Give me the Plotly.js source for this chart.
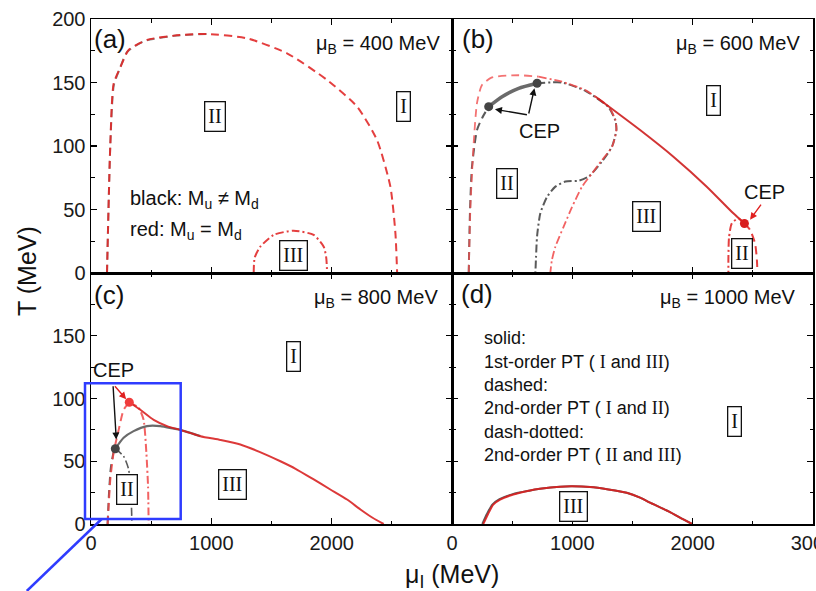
<!DOCTYPE html>
<html><head><meta charset="utf-8">
<script src="https://cdn.plot.ly/plotly-3.0.1.min.js"></script>
<style>html,body{margin:0;padding:0;background:#fff}</style>
</head><body><div id="chart" style="width:816px;height:591px"></div>
<script>
// ---------- panel (a): muB = 400 MeV ----------
const aRedDashMu = [133,160,188,244,313,465,742,964,1297,1629,1962,2211,2377,2488,2530,2544];
const aRedDashT  = [0,99.5,149,162,175.6,183.5,187.4,188.2,184.8,173,152,131,104.7,68,31,0];
const aBlkDashMu = [133,160,190,240,300,440,715,964];
const aBlkDashT  = [0,99.5,148,161,174,182.5,187,188.2];
const aDomeMu = [1352,1360,1407,1518,1684,1850,1934,1955,1962];
const aDomeT  = [0,12,20.7,30,33.3,30,20.7,12,0];

// ---------- panel (b): muB = 600 MeV ----------
const bRedDashMu = [139,153,180,208,249,332,554,720];
const bRedDashT  = [0,52,102,134,148,154,155.7,154.6];
const bRedDDMu = [720,914,1108,1191,1302,1358,1366,1330,1247,1164,1081,998,928,859,830,817];
const bRedDDT  = [154.6,150.6,144,139,131,120.5,112.6,99.5,89,78.5,68,52,36.5,20.7,10,0];
const bBlkDashMu = [139,150,166,208,249,305];
const bBlkDashT  = [0,50,83.7,112.6,121.8,131];
const bBlkSolidMu = [305,416,554,707];
const bBlkSolidT  = [131,138.8,145.4,149.4];
const bBlkDDMu = [707,914,1108,1191,1302,1358,1366,1330,1247,1136,1053,942,859,790,734,707,698,693];
const bBlkDDT  = [149.4,150,143.5,138.5,130.5,120,112.6,99.5,88,76,72.7,72,68,60,47,29,12,0];
const bRedSolidMu = [1191,1563,1840,2117,2338,2430];
const bRedSolidT  = [139,112.6,91.6,68,47,39];
const bLobeDDMu = [2430,2380,2325,2302,2297,2297];
const bLobeDDT  = [39,43,39,28,12,0];
const bLobeDashMu = [2430,2477,2519,2534,2538];
const bLobeDashT  = [39,34,23,10,0];
const bBlkCEPMu = [305,707];
const bBlkCEPT  = [131,149.4];
const bRedCEPMu = [2430];
const bRedCEPT  = [39];

// ---------- panel (c): muB = 800 MeV ----------
const cRedDashMu = [138,150,160,188,230,271,318];
const cRedDashT  = [0,20,35,57,75,91,97];
const cRedDDMu = [318,396,437,460,474,479];
const cRedDDT  = [97,92.6,83,57,30,0];
const cRedSolidMu = [318,410,521,632,742,909,1075,1241,1400,1574,1700,1851,1989,2128,2239,2340,2432];
const cRedSolidT  = [97,91,83,78,75,70,67,63.4,57.5,50,44,35.5,27.5,19.5,11.6,5,0];
const cBlkSolidMu = [202,271,354,465,576,687,742,909];
const cBlkSolidT  = [60,68.7,74,78,78,76,75,70];
const cBlkDashMu = [138,150,165,190,202];
const cBlkDashT  = [0,25,45,58,60];
const cBlkDDMu = [202,271,313,335,340];
const cBlkDDT  = [60,54,43.5,17,0];
const cBlkCEPMu = [202];
const cBlkCEPT  = [60];
const cRedCEPMu = [318];
const cRedCEPT  = [97];

// ---------- panel (d): muB = 1000 MeV ----------
const dRedSolidMu = [260,300,343,400,510,640,731,898,1000,1147,1300,1452,1563,1646,1800,1923,1995];
const dRedSolidT  = [0,8,15.5,19.5,23.5,26.5,28,29.7,30,29.4,27.5,24.9,21,17,10,3.6,0];
const dBlkSolidMu = [252,290,335,395,505,640,731,898,1000,1147,1300,1452,1563,1646,1800,1923,1995];
const dBlkSolidT  = [0,8,15.5,19.8,23.8,26.5,28,29.7,30,29.4,27.5,24.9,21,17,10,3.6,0];

// ---------- tick labels ----------
const muTicks = [0,1000,2000,3000];
const muMinor = [500,1500,2500];
const tTicks = [0,50,100,150,200];
const tMinor = [25,75,125,175];

const RED = 'rgba(224,36,36,0.88)';
const BLK = 'rgba(72,72,72,0.9)';
const DASH = '8px,5px';
const DD = '8px,3px,2px,3px';

function ln(xa, ya, x, y, color, dash, w){
  return {type:'scatter', mode:'lines', x:x, y:y, xaxis:xa, yaxis:ya,
    line:{color:color, dash:dash, width:w||2, shape:'spline', smoothing:0.6},
    hoverinfo:'skip', showlegend:false};
}
function mk(xa, ya, x, y, color){
  return {type:'scatter', mode:'markers', x:x, y:y, xaxis:xa, yaxis:ya,
    marker:{color:color, size:9}, hoverinfo:'skip', showlegend:false};
}

const data = [
  // a
  ln('x','y',aBlkDashMu,aBlkDashT,'rgba(90,90,90,0.7)',DASH,2),
  ln('x','y',aRedDashMu,aRedDashT,RED,DASH,2),
  ln('x','y',aDomeMu,aDomeT,RED,DD,2),
  // b
  ln('x2','y2',bBlkDashMu,bBlkDashT,BLK,DASH,2),
  ln('x2','y2',bBlkDDMu,bBlkDDT,BLK,DD,2),
  ln('x2','y2',bRedDashMu,bRedDashT,'rgba(240,80,80,0.8)',DASH,1.8),
  ln('x2','y2',bRedDDMu,bRedDDT,'rgba(240,70,70,0.85)',DD,1.8),
  ln('x2','y2',bBlkSolidMu,bBlkSolidT,'rgba(80,80,80,0.85)','solid',3.5),
  ln('x2','y2',bRedSolidMu,bRedSolidT,'rgba(205,30,30,0.9)','solid',2),
  ln('x2','y2',bLobeDDMu,bLobeDDT,RED,DD,2),
  ln('x2','y2',bLobeDashMu,bLobeDashT,RED,DASH,2),
  mk('x2','y2',bBlkCEPMu,bBlkCEPT,'#444'),
  mk('x2','y2',bRedCEPMu,bRedCEPT,'#d81e1e'),
  // c
  ln('x3','y3',cBlkDashMu,cBlkDashT,BLK,DASH,2),
  ln('x3','y3',cBlkDDMu,cBlkDDT,BLK,DD,1.6),
  ln('x3','y3',cRedDashMu,cRedDashT,'rgba(240,70,70,0.85)',DASH,2),
  ln('x3','y3',cRedDDMu,cRedDDT,'rgba(240,70,70,0.85)',DD,2),
  ln('x3','y3',cBlkSolidMu,cBlkSolidT,'rgba(90,90,90,0.9)','solid',2.2),
  ln('x3','y3',cRedSolidMu,cRedSolidT,'rgba(215,30,30,0.88)','solid',2),
  mk('x3','y3',cBlkCEPMu,cBlkCEPT,'#444'),
  mk('x3','y3',cRedCEPMu,cRedCEPT,'#f03c3c'),
  // d
  ln('x4','y4',dBlkSolidMu,dBlkSolidT,BLK,'solid',2),
  ln('x4','y4',dRedSolidMu,dRedSolidT,'rgba(218,32,32,0.9)','solid',2)
];

function ax(domain, anchor, range, vals, texts, minorVals, showLabels){
  return {domain:domain, anchor:anchor, range:range, showline:true, linecolor:'#000', linewidth:1.5,
    mirror:'ticks', ticks:'inside', ticklen:6, tickwidth:1.4, tickcolor:'#000',
    tickmode:'array', tickvals:vals, ticktext:texts, showticklabels:showLabels,
    ticklabeloverflow:'allow',
    minor:{tickmode:'array', tickvals:minorVals, ticks:'inside', ticklen:3.5, tickwidth:1.2, tickcolor:'#000', showgrid:false},
    showgrid:false, zeroline:false, fixedrange:true,
    tickfont:{family:'Liberation Sans, Arial, sans-serif', size:20, color:'#1a1a1a'}};
}
const SPLIT = 0.497;
const layout = {
  width:816, height:591, margin:{l:91, r:3, t:19, b:67},
  paper_bgcolor:'#fff', plot_bgcolor:'#fff', showlegend:false,
  xaxis:  ax([0,0.5],'y', [0,3000], muTicks, ['0','1000','2000',''], muMinor, false),
  yaxis:  ax([SPLIT,1],'x', [0,200], tTicks, ['0','50','100','150','200'], tMinor, true),
  xaxis2: ax([0.5,1],'y2',[0,3000], muTicks, ['0','1000','2000','3000'], muMinor, false),
  yaxis2: ax([SPLIT,1],'x2',[0,200], tTicks, ['0','50','100','150','200'], tMinor, false),
  xaxis3: ax([0,0.5],'y3',[0,3000], muTicks, ['0','1000','2000',''], muMinor, true),
  yaxis3: ax([0,SPLIT],'x3',[0,200], tTicks, ['0','50','100','150',''], tMinor, true),
  xaxis4: ax([0.5,1],'y4',[0,3000], muTicks, ['0','1000','2000','3000'], muMinor, true),
  yaxis4: ax([0,SPLIT],'x4',[0,200], tTicks, ['0','50','100','150','200'], tMinor, false),
  annotations:[], shapes:[]
};

const L=91, R=813, TOP=19, BOT=524;
function px(x){return (x-L)/(R-L);}
function py(y){return (BOT-y)/(BOT-TOP);}
const SANS = 'Liberation Sans, Arial, sans-serif';
const SERIF = 'Liberation Serif, Times New Roman, serif';
const A = layout.annotations;
function ptext(x,y,text,size,xanchor,extra){
  A.push(Object.assign({xref:'paper',yref:'paper',x:px(x),y:py(y),text:text,showarrow:false,
    xanchor:xanchor||'center',yanchor:'middle',font:{family:SANS,size:size,color:'#111'}},extra||{}));
}
function box(xr,yr,x,y,text){
  A.push({xref:xr,yref:yr,x:x,y:y,text:text,showarrow:false,xanchor:'center',yanchor:'middle',
    font:{family:SERIF,size:20,color:'#111'},bordercolor:'#111',borderwidth:1.3,borderpad:3,bgcolor:'#fff'});
}
function dtext(xr,yr,x,y,text,color){
  A.push({xref:xr,yref:yr,x:x,y:y,text:text,showarrow:false,xanchor:'center',yanchor:'middle',
    font:{family:SANS,size:20,color:color||'#111'}});
}
function arrow(xr,yr,x,y,tx,ty,color){
  A.push({xref:xr,yref:yr,axref:xr,ayref:yr,x:x,y:y,ax:tx,ay:ty,text:'',showarrow:true,
    arrowhead:2,arrowsize:1,arrowwidth:1.4,arrowcolor:color,standoff:0,startstandoff:0});
}

// panel tags
ptext(110,39,'(a)',26); ptext(477.5,39,'(b)',26); ptext(109,295,'(c)',26); ptext(477,294,'(d)',26);
ptext(442,44,'μ<sub>B</sub> = 400 MeV',20,'right');
ptext(802,44,'μ<sub>B</sub> = 600 MeV',20,'right');
ptext(440,298,'μ<sub>B</sub> = 800 MeV',20,'right');
ptext(798,298,'μ<sub>B</sub> = 1000 MeV',20,'right');
ptext(128,199,'black: M<sub>u</sub> ≠ M<sub>d</sub>',20,'left');
ptext(128,230,'red: M<sub>u</sub> = M<sub>d</sub>',20,'left');
const S = s => '<span style="font-family:Liberation Serif">'+s+'</span>';
const dLines = ['solid:','1st-order PT ( '+S('I')+' and '+S('III')+')','dashed:',
  '2nd-order PT ( '+S('I')+' and '+S('II')+')','dash-dotted:','2nd-order PT ( '+S('II')+' and '+S('III')+')'];
const dLineY = [338,361.7,385,408.3,431.7,455];
dLines.forEach((t,i)=>ptext(481.7,dLineY[i],t,18,'left'));
// axis titles
ptext(27,271,'T (MeV)',25,'center',{textangle:-90});
ptext(452,576,'μ<sub>I</sub> (MeV)',25,'center');

// region boxes
box('x','y',1033,123,'II'); box('x','y',2598,131.5,'I'); box('x','y',1684,14,'III');
box('x2','y2',2172,136,'I'); box('x2','y2',455,70.6,'II'); box('x2','y2',1618,44.3,'III'); box('x2','y2',2408,15.5,'II');
box('x3','y3',1679,133.8,'I'); box('x3','y3',1172,31.5,'III'); box('x3','y3',299,27.5,'II');
box('x4','y4',2350,82,'I'); box('x4','y4',1012,13.7,'III');

// CEP labels and arrows
dtext('x2','y2',726,112,'CEP');
arrow('x2','y2',357,128.9,635,124.4,'#111');
arrow('x2','y2',685,145.4,635,124.4,'#111');
dtext('x2','y2',2599,64,'CEP');
arrow('x2','y2',2477,42,2577,55,'#e02020');
dtext('x3','y3',188,122.6,'CEP');
arrow('x3','y3',210,67.4,183,111,'#111');
arrow('x3','y3',292,99.5,188,111,'#e02020');

// blue zoom box and pointer line
layout.shapes.push({type:'rect',xref:'paper',yref:'paper',x0:px(85),x1:px(180.7),y0:py(519),y1:py(383.3),
  line:{color:'#2f3cff',width:2.5},fillcolor:'rgba(0,0,0,0)',layer:'above'});
layout.shapes.push({type:'line',xref:'paper',yref:'paper',x0:px(101.7),y0:py(519),x1:px(26.8),y1:py(591),
  line:{color:'#2f3cff',width:2.5},layer:'above'});

Plotly.newPlot('chart', data, layout, {displayModeBar:false, staticPlot:true});
</script></body></html>
